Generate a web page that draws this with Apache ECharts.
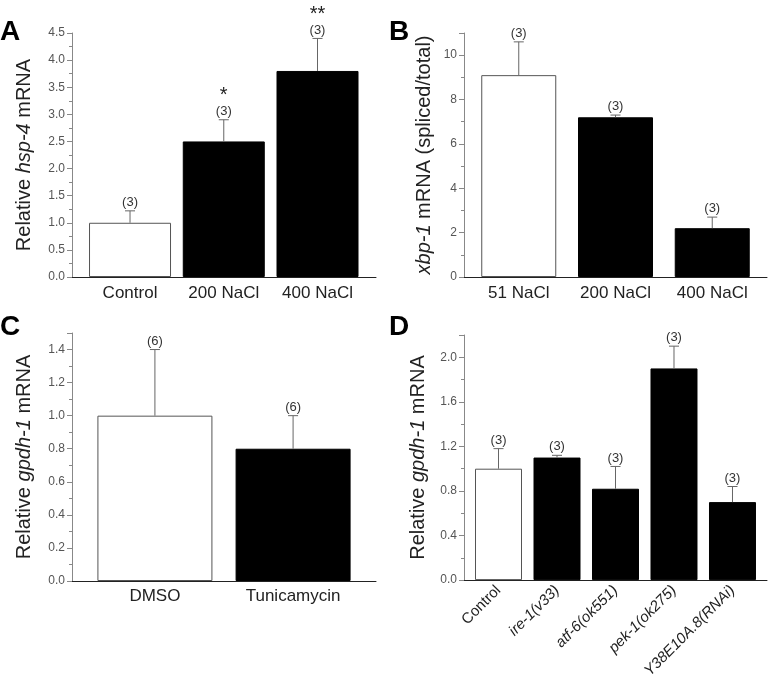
<!DOCTYPE html>
<html>
<head>
<meta charset="utf-8">
<script src="https://cdn.jsdelivr.net/npm/echarts@6/dist/echarts.min.js"></script>
<style>
html,body{margin:0;padding:0;background:#fff;}
#chart{width:769px;height:681px;}
</style>
</head>
<body>
<div id="chart"></div>
<script>
// ---- Panel A ----
const A_categories = ['Control', '200 NaCl', '400 NaCl'];
const A_values = [1.0, 2.5, 3.8];
const A_errors = [0.22, 0.4, 0.6];
const A_n = ['(3)', '(3)', '(3)'];
const A_stars = ['', '*', '**'];
// ---- Panel B ----
const B_categories = ['51 NaCl', '200 NaCl', '400 NaCl'];
const B_values = [9.1, 7.2, 2.2];
const B_errors = [1.5, 0.1, 0.5];
const B_n = ['(3)', '(3)', '(3)'];
const B_stars = ['', '', ''];
// ---- Panel C ----
const C_categories = ['DMSO', 'Tunicamycin'];
const C_values = [1.0, 0.8];
const C_errors = [0.4, 0.2];
const C_n = ['(6)', '(6)'];
const C_stars = ['', ''];
// ---- Panel D ----
const D_categories = ['Control', 'ire-1(v33)', 'atf-6(ok551)', 'pek-1(ok275)', 'Y38E10A.8(RNAi)'];
const D_values = [1.0, 1.1, 0.82, 1.9, 0.7];
const D_errors = [0.18, 0.02, 0.2, 0.2, 0.14];
const D_n = ['(3)', '(3)', '(3)', '(3)', '(3)'];
const D_stars = ['', '', '', '', ''];

const FONT = '"Liberation Sans", Arial, sans-serif';

const panels = [
  {cats: A_categories, vals: A_values, errs: A_errors, n: A_n, stars: A_stars,
   grid: {left: 72, top: 33, width: 304, height: 244},
   xmin: 0.381, xmax: 3.624, barWidth: 82,
   ymax: 4.5, interval: 0.5, dec: 1, showMax: true,
   name: 'Relative {i|hsp-4} mRNA', nameGap: 38, catFont: 17, rotate: 0, catMargin: 8},
  {cats: B_categories, vals: B_values, errs: B_errors, n: B_n, stars: B_stars,
   grid: {left: 464, top: 33, width: 303, height: 244},
   xmin: 0.434, xmax: 3.566, barWidth: 75,
   ymax: 11, interval: 2, dec: 0, showMax: false,
   name: '{i|xbp-1} mRNA (spliced/total)', nameGap: 30, catFont: 17, rotate: 0, catMargin: 8},
  {cats: C_categories, vals: C_values, errs: C_errors, n: C_n, stars: C_stars,
   grid: {left: 72, top: 333, width: 304, height: 248},
   xmin: 0.4, xmax: 2.6, barWidth: 115,
   ymax: 1.5, interval: 0.2, dec: 1, showMax: false,
   name: 'Relative {i|gpdh-1} mRNA', nameGap: 38, catFont: 17, rotate: 0, catMargin: 7},
  {cats: D_categories, vals: D_values, errs: D_errors, n: D_n, stars: D_stars,
   grid: {left: 464, top: 335, width: 303, height: 246},
   xmin: 0.41, xmax: 5.59, barWidth: 47,
   ymax: 2.2, interval: 0.4, dec: 1, showMax: false,
   name: 'Relative {i|gpdh-1} mRNA', nameGap: 36, catFont: 15, rotate: 45, catMargin: 8, italicCats: true}
];

const grids = [], xAxes = [], yAxes = [], series = [];

panels.forEach((p, gi) => {
  grids.push(Object.assign({containLabel: false}, p.grid));
  const rich = {i: {fontStyle: 'italic', fontSize: p.catFont, color: '#222', fontFamily: FONT}};
  xAxes.push({
    type: 'value', gridIndex: gi, min: p.xmin, max: p.xmax,
    axisLine: {show: true, onZero: false, lineStyle: {color: '#222', width: 1}},
    axisTick: {show: false},
    splitLine: {show: false},
    axisLabel: {
      customValues: p.cats.map((c, i) => i + 1),
      formatter: (v) => {
        const i = Math.round(v) - 1;
        const t = p.cats[i];
        if (p.italicCats && i > 0) return '{i|' + t + '}';
        return t;
      },
      rich: rich,
      rotate: p.rotate,
      fontSize: p.catFont, color: '#222', fontFamily: FONT, margin: p.catMargin
    }
  });
  yAxes.push({
    type: 'value', gridIndex: gi, min: 0, max: p.ymax, interval: p.interval,
    axisLine: {show: true, lineStyle: {color: '#888', width: 1}},
    axisTick: {show: true, length: 5, lineStyle: {color: '#888'}},
    minorTick: {show: true, splitNumber: 2, length: 3, lineStyle: {color: '#888'}},
    splitLine: {show: false},
    minorSplitLine: {show: false},
    axisLabel: {color: '#555', fontSize: 12, fontFamily: FONT, margin: 7,
      showMaxLabel: p.showMax,
      formatter: (v) => v.toFixed(p.dec)},
    name: p.name, nameLocation: 'middle', nameGap: p.nameGap,
    nameTextStyle: {fontSize: 20, color: '#222', fontFamily: FONT,
      rich: {i: {fontStyle: 'italic', fontSize: 20, color: '#222', fontFamily: FONT}}}
  });
  series.push({
    type: 'bar', xAxisIndex: gi, yAxisIndex: gi, barWidth: p.barWidth,
    data: p.vals.map((v, i) => ({
      value: [i + 1, v],
      itemStyle: {color: i === 0 ? '#fff' : '#000', borderColor: i === 0 ? '#555' : '#000', borderWidth: 1}
    })),
    z: 2
  });
  series.push({
    type: 'custom', xAxisIndex: gi, yAxisIndex: gi, z: 3,
    data: p.vals.map((v, i) => [i + 1, v, p.errs[i]]),
    renderItem: (params, api) => {
      const x = api.value(0), v = api.value(1), e = api.value(2);
      const p0 = api.coord([x, v]);
      const p1 = api.coord([x, v + e]);
      const idx = params.dataIndex;
      const cap = 5;
      const children = [
        {type: 'line', shape: {x1: p0[0], y1: p0[1], x2: p1[0], y2: p1[1]}, style: {stroke: '#666', lineWidth: 1}},
        {type: 'line', shape: {x1: p1[0] - cap, y1: p1[1], x2: p1[0] + cap, y2: p1[1]}, style: {stroke: '#666', lineWidth: 1}},
        {type: 'text', x: p1[0], y: p1[1] - 2, style: {text: p.n[idx], fill: '#333', font: '13px ' + FONT, textAlign: 'center', textVerticalAlign: 'bottom'}}
      ];
      if (p.stars[idx]) {
        children.push({type: 'text', x: p1[0], y: p1[1] - 24, style: {text: p.stars[idx], fill: '#222', font: '20px ' + FONT, textAlign: 'center', textVerticalAlign: 'middle'}});
      }
      return {type: 'group', children: children};
    }
  });
});

const chart = echarts.init(document.getElementById('chart'), null, {renderer: 'canvas'});
chart.setOption({
  animation: false,
  backgroundColor: '#fff',
  textStyle: {fontFamily: FONT},
  grid: grids, xAxis: xAxes, yAxis: yAxes, series: series,
  graphic: [
    {type: 'text', left: 0, top: 18, style: {text: 'A', font: 'bold 28px ' + FONT, fill: '#000'}},
    {type: 'text', left: 389, top: 18, style: {text: 'B', font: 'bold 28px ' + FONT, fill: '#000'}},
    {type: 'text', left: 0, top: 313, style: {text: 'C', font: 'bold 28px ' + FONT, fill: '#000'}},
    {type: 'text', left: 389, top: 313, style: {text: 'D', font: 'bold 28px ' + FONT, fill: '#000'}}
  ]
});
</script>
</body>
</html>
